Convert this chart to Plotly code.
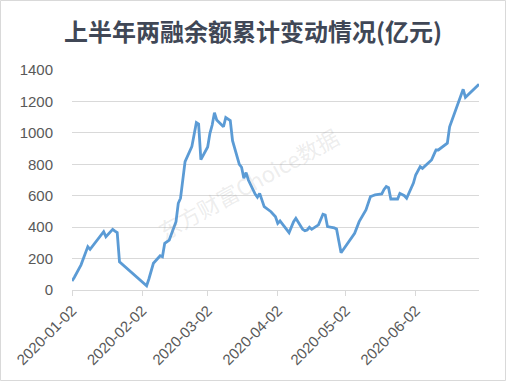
import plotly.graph_objects as go

dates = [
    "2020-01-02", "2020-01-03", "2020-01-06", "2020-01-07", "2020-01-08", "2020-01-09", "2020-01-10",
    "2020-01-13", "2020-01-14", "2020-01-15", "2020-01-16", "2020-01-17", "2020-01-20", "2020-01-21",
    "2020-01-22", "2020-01-23",
    "2020-02-03", "2020-02-04", "2020-02-05", "2020-02-06", "2020-02-07", "2020-02-10", "2020-02-11",
    "2020-02-12", "2020-02-13", "2020-02-14", "2020-02-17", "2020-02-18", "2020-02-19", "2020-02-20",
    "2020-02-21", "2020-02-24", "2020-02-25", "2020-02-26", "2020-02-27", "2020-02-28",
    "2020-03-02", "2020-03-03", "2020-03-04", "2020-03-05", "2020-03-06", "2020-03-09", "2020-03-10",
    "2020-03-11", "2020-03-12", "2020-03-13", "2020-03-16", "2020-03-17", "2020-03-18", "2020-03-19",
    "2020-03-20", "2020-03-23", "2020-03-24", "2020-03-25", "2020-03-26", "2020-03-27", "2020-03-30",
    "2020-03-31",
    "2020-04-01", "2020-04-02", "2020-04-03", "2020-04-07", "2020-04-08", "2020-04-09", "2020-04-10",
    "2020-04-13", "2020-04-14", "2020-04-15", "2020-04-16", "2020-04-17", "2020-04-20", "2020-04-21",
    "2020-04-22", "2020-04-23", "2020-04-24", "2020-04-27", "2020-04-28", "2020-04-29", "2020-04-30",
    "2020-05-06", "2020-05-07", "2020-05-08", "2020-05-11", "2020-05-12", "2020-05-13", "2020-05-14",
    "2020-05-15", "2020-05-18", "2020-05-19", "2020-05-20", "2020-05-21", "2020-05-22", "2020-05-25",
    "2020-05-26", "2020-05-27", "2020-05-28", "2020-05-29",
    "2020-06-01", "2020-06-02", "2020-06-03", "2020-06-04", "2020-06-05", "2020-06-08", "2020-06-09",
    "2020-06-10", "2020-06-11", "2020-06-12", "2020-06-15", "2020-06-16", "2020-06-17", "2020-06-18",
    "2020-06-19", "2020-06-22", "2020-06-23", "2020-06-24", "2020-06-29", "2020-06-30",
]
values = [
    57, 80, 160, 200, 240, 276, 259,
    318, 335, 355, 371, 339, 386, 375,
    365, 180,
    45, 27, 70, 117, 170, 218, 212,
    297, 310, 318, 435, 552, 584, 700,
    817, 912, 1000, 1065, 1056, 830,
    910, 997, 1050, 1128, 1082, 1039, 1097,
    1090, 1078, 950, 800, 781, 711, 747,
    700, 610, 590, 615, 570, 530, 498,
    480,
    466, 424, 439, 365, 403, 435, 456,
    386, 377, 382, 399, 386, 415, 445,
    482, 477, 403, 395, 388, 312, 237,
    361, 400, 435, 510, 560, 594, 600,
    605, 611, 640, 658, 651, 579, 579,
    615, 609, 600, 584,
    680, 732, 760, 785, 774, 810, 827,
    860, 891, 891, 925, 934, 1039, 1080,
    1114, 1230, 1277, 1226, 1293, 1309,
]

tick_dates = ["2020-01-02", "2020-02-02", "2020-03-02", "2020-04-02", "2020-05-02", "2020-06-02"]
y_ticks = [0, 200, 400, 600, 800, 1000, 1200, 1400]

title_text = "上半年两融余额累计变动情况(亿元)"
watermark = "东方财富Choice数据"

W, H = 506, 381
L, R, T, B = 72, 27, 70, 91
pw, ph = W - L - R, H - T - B

fig = go.Figure()
fig.add_trace(go.Scatter(
    x=dates, y=values, mode="lines",
    line=dict(color="#5B9BD5", width=2.8),
    hoverinfo="skip", showlegend=False,
))

fig.update_layout(
    width=W, height=H,
    margin=dict(l=L, r=R, t=T, b=B, pad=0),
    paper_bgcolor="white", plot_bgcolor="white",
    font=dict(family="Liberation Sans, Arial, sans-serif", color="#595959", size=15),
    title=dict(
        text="<b>" + title_text + "</b>",
        x=0.5, xanchor="center", y=1 - 33 / H, yanchor="middle", yref="container",
        font=dict(family="Noto Sans CJK SC", size=24, color="#404756"),
    ),
    xaxis=dict(
        type="date",
        range=["2020-01-02", "2020-06-30"],
        tickvals=tick_dates, ticktext=tick_dates,
        tickangle=-45,
        showgrid=False, zeroline=False,
        showline=True, linecolor="#d9d9d9", linewidth=1,
        ticks="outside", ticklen=5, tickcolor="#d9d9d9",
        tickfont=dict(size=15, color="#595959"),
    ),
    yaxis=dict(
        range=[0, 1400],
        tickvals=y_ticks,
        showgrid=True, gridcolor="#d9d9d9", gridwidth=1,
        zeroline=False, showline=False,
        ticks="", ticklabelstandoff=18,
        tickfont=dict(size=15, color="#595959"),
    ),
)

fig.add_annotation(
    text=watermark, xref="paper", yref="paper",
    x=(248 - L) / pw, y=(H - B - 183) / ph,
    showarrow=False, textangle=-29,
    font=dict(family="Noto Sans CJK SC", size=22, color="rgba(150,150,150,0.18)"),
)

# outer border
fig.add_shape(
    type="rect", xref="paper", yref="paper",
    x0=(0.5 - L) / pw, x1=(W - 0.5 - L) / pw,
    y0=-(B - 0.5) / ph, y1=1 + (T - 0.5) / ph,
    line=dict(color="#d9d9d9", width=1), layer="below",
)

fig.write_html("out.html")
